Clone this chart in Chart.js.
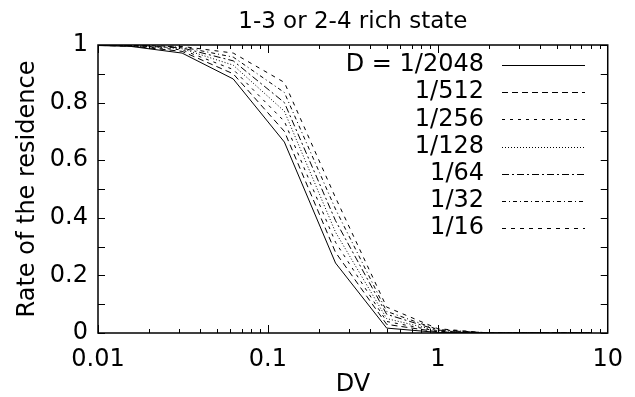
<!DOCTYPE html>
<html>
<head>
<meta charset="utf-8">
<script src="https://cdn.jsdelivr.net/npm/chart.js@4/dist/chart.umd.min.js"></script>
<style>
  html, body { margin: 0; padding: 0; background: #fff; }
</style>
</head>
<body>
<canvas id="myChart" width="635" height="397"></canvas>
<script>
// DV values (powers of two)
const dv = [1/128, 1/64, 1/32, 1/16, 1/8, 1/4, 1/2, 1, 2, 4, 8];

// rate of the residence, one list per D
const d2048 = [1, 0.995, 0.972, 0.882, 0.663, 0.243, 0.017, 0.002, 0, 0, 0];
const d512  = [1, 0.996, 0.978, 0.900, 0.700, 0.280, 0.030, 0.004, 0, 0, 0];
const d256  = [1, 0.997, 0.983, 0.915, 0.735, 0.315, 0.040, 0.006, 0, 0, 0];
const d128  = [1, 0.998, 0.987, 0.930, 0.770, 0.350, 0.050, 0.008, 0, 0, 0];
const d64   = [1, 0.998, 0.990, 0.945, 0.800, 0.390, 0.065, 0.010, 0, 0, 0];
const d32   = [1, 0.999, 0.993, 0.958, 0.835, 0.430, 0.075, 0.012, 0, 0, 0];
const d16   = [1, 0.999, 0.995, 0.972, 0.870, 0.470, 0.090, 0.015, 0, 0, 0];

const seriesLabels = ['D = 1/2048', '1/512', '1/256', '1/128', '1/64', '1/32', '1/16'];
const seriesValues = [d2048, d512, d256, d128, d64, d32, d16];
const dashes = [[], [6, 4], [3, 5], [1, 2], [7, 3, 2, 3], [4, 3, 1, 3], [4, 5]];

const xTicks = [0.01, 0.1, 1, 10];
const yTicks = [0, 0.2, 0.4, 0.6, 0.8, 1];

const FONT = '"DejaVu Sans", Verdana, sans-serif';
Chart.defaults.font.family = FONT;
Chart.defaults.color = '#000';

// frame, inward ticks and the key on the right
const framePlugin = {
  id: 'frame',
  afterDraw(chart) {
    const ctx = chart.ctx;
    const a = chart.chartArea;
    const xs = chart.scales.x, ys = chart.scales.y;
    ctx.save();
    ctx.strokeStyle = '#000';
    ctx.setLineDash([]);
    ctx.lineWidth = 1;
    ctx.beginPath();
    // y ticks every 0.1
    for (let i = 0; i <= 10; i++) {
      const y = Math.round(ys.getPixelForValue(i / 10)) + 0.5;
      ctx.moveTo(a.left, y); ctx.lineTo(a.left + 7, y);
      ctx.moveTo(a.right, y); ctx.lineTo(a.right - 7, y);
    }
    // x ticks, decades long, 2..9 short
    for (let e = -2; e <= 0; e++) {
      for (let m = 1; m <= 9; m++) {
        const v = m * Math.pow(10, e);
        const x = Math.round(xs.getPixelForValue(v)) + 0.5;
        const len = m === 1 ? 8 : 4;
        ctx.moveTo(x, a.bottom); ctx.lineTo(x, a.bottom - len);
        ctx.moveTo(x, a.top); ctx.lineTo(x, a.top + len);
      }
    }
    ctx.stroke();
    ctx.lineWidth = 1.5;
    ctx.strokeRect(a.left, a.top, a.right - a.left, a.bottom - a.top);

    // key
    ctx.font = '24px ' + FONT;
    ctx.textAlign = 'right';
    ctx.textBaseline = 'middle';
    ctx.fillStyle = '#000';
    ctx.lineWidth = 1;
    chart.data.datasets.forEach((ds, i) => {
      const y = 65 + i * 27.2;
      ctx.fillText(ds.label, 484, y);
      ctx.setLineDash(ds.borderDash || []);
      ctx.beginPath();
      ctx.moveTo(502, Math.round(y) + 0.5);
      ctx.lineTo(585, Math.round(y) + 0.5);
      ctx.stroke();
    });
    ctx.restore();
  }
};

const datasets = seriesValues.map((vals, i) => ({
  label: seriesLabels[i],
  data: dv.map((x, j) => ({ x: x, y: vals[j] })),
  borderColor: '#000',
  borderWidth: 1,
  borderDash: dashes[i],
  pointRadius: 0,
  tension: 0,
  fill: false
}));

new Chart(document.getElementById('myChart'), {
  type: 'line',
  data: { datasets: datasets },
  options: {
    responsive: false,
    animation: false,
    layout: { padding: { left: 0, right: 27, top: 0, bottom: 0 } },
    plugins: {
      legend: { display: false },
      tooltip: { enabled: false },
      title: {
        display: true,
        text: '1-3 or 2-4 rich state',
        fullSize: false,
        color: '#000',
        font: { size: 23, weight: 'normal' },
        padding: { top: 8, bottom: 9.4 }
      }
    },
    scales: {
      x: {
        type: 'logarithmic',
        min: 0.01,
        max: 10,
        grid: { display: false, drawTicks: false },
        border: { display: false },
        afterBuildTicks: (s) => { s.ticks = xTicks.map(v => ({ value: v })); },
        afterFit: (s) => { s.height = 64; },
        ticks: {
          font: { size: 24 },
          padding: 12,
          maxRotation: 0,
          autoSkip: false,
          callback: (v) => String(v)
        },
        title: {
          display: true,
          text: 'DV',
          font: { size: 24 },
          padding: { top: 0, bottom: -2 }
        }
      },
      y: {
        min: 0,
        max: 1,
        grid: { display: false, drawTicks: false },
        border: { display: false },
        afterBuildTicks: (s) => { s.ticks = yTicks.map(v => ({ value: v })); },
        afterFit: (s) => { s.width = 98; },
        ticks: {
          font: { size: 24 },
          padding: 10,
          callback: (v) => String(Math.round(v * 10) / 10)
        },
        title: {
          display: true,
          text: 'Rate of the residence',
          font: { size: 24 },
          padding: { top: 13, bottom: 0 }
        }
      }
    }
  },
  plugins: [framePlugin]
});
</script>
</body>
</html>
